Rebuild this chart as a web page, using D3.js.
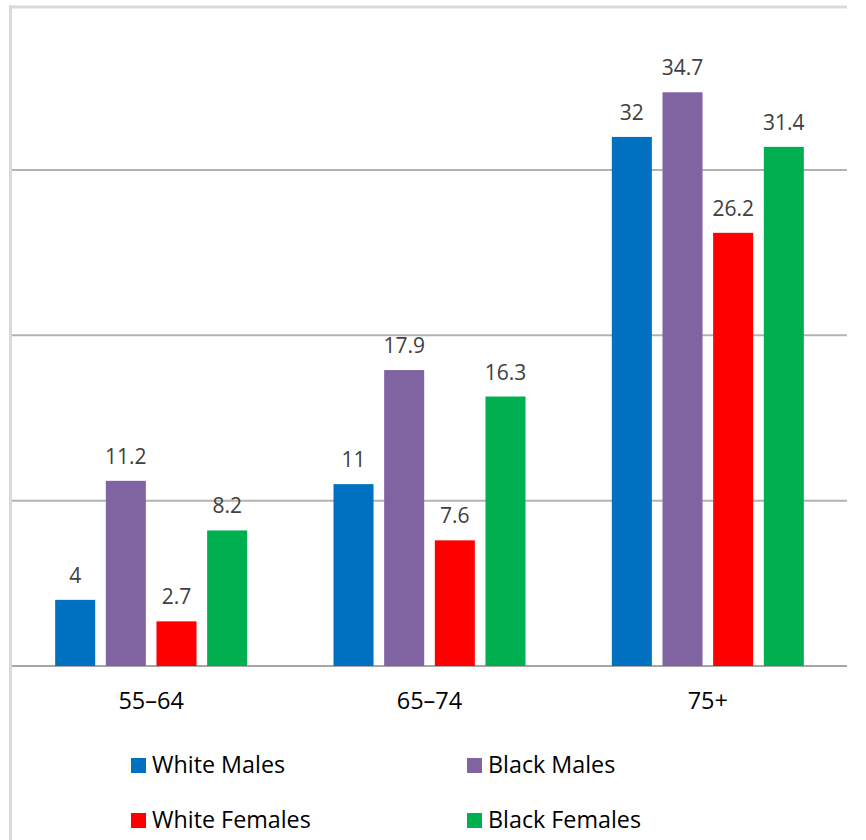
<!DOCTYPE html>
<html>
<head>
<meta charset="utf-8">
<script src="https://cdn.jsdelivr.net/npm/d3@7"></script>
<style>
  body { margin: 0; background: #fff; }
  svg { font-family: "Open Sans", "Noto Sans", sans-serif; }
</style>
</head>
<body>
<svg id="chart" width="866" height="840"></svg>
<script>
const ageGroups = ["55–64", "65–74", "75+"];
const seriesNames = ["White Males", "Black Males", "White Females", "Black Females"];
const whiteMales = [4, 11, 32];
const blackMales = [11.2, 17.9, 34.7];
const whiteFemales = [2.7, 7.6, 26.2];
const blackFemales = [8.2, 16.3, 31.4];
const gridTicks = [0, 10, 20, 30];
const colors = ["#0070c0", "#8064a2", "#ff0000", "#00b050"];

const seriesValues = [whiteMales, blackMales, whiteFemales, blackFemales];

const svg = d3.select("#chart");
const plotLeft = 12, plotRight = 847, plotBottom = 666;

// cadre
svg.append("line").attr("x1", 10.5).attr("x2", 10.5).attr("y1", 5.5).attr("y2", 840)
    .attr("stroke", "#d9d9d9").attr("stroke-width", 3);
svg.append("line").attr("x1", 9).attr("x2", 847).attr("y1", 7).attr("y2", 7)
    .attr("stroke", "#d9d9d9").attr("stroke-width", 3);

const x0 = d3.scaleBand().domain(ageGroups).range([plotLeft, plotRight]);
const x1 = d3.scaleBand().domain(seriesNames).range([0, 192]).paddingInner(0.21);
const y = d3.scaleLinear().domain([0, 30]).range([plotBottom, 170]);

// grille
svg.append("g").selectAll("line").data(gridTicks).enter().append("line")
    .attr("x1", plotLeft).attr("x2", plotRight)
    .attr("y1", d => y(d)).attr("y2", d => y(d))
    .attr("stroke", d => d === 0 ? "#a6a6a6" : "#b3b3b3")
    .attr("stroke-width", 2);

const groups = svg.append("g").selectAll("g").data(ageGroups).enter().append("g")
    .attr("transform", d => `translate(${x0(d) + x0.bandwidth() / 2 - 96},0)`);

const rows = (d, i) => seriesNames.map((s, j) => ({ s, j, v: seriesValues[j][i] }));

groups.selectAll("rect").data(rows).enter().append("rect")
    .attr("x", d => x1(d.s))
    .attr("width", x1.bandwidth())
    .attr("y", d => y(d.v))
    .attr("height", d => plotBottom - y(d.v))
    .attr("fill", d => colors[d.j]);

groups.selectAll("text").data(rows).enter().append("text")
    .attr("x", d => x1(d.s) + x1.bandwidth() / 2)
    .attr("y", d => y(d.v) - 17)
    .attr("text-anchor", "middle")
    .style("font-size", "21px")
    .style("fill", "#404040")
    .text(d => d.v);

// étiquettes des catégories
svg.append("g").selectAll("text").data(ageGroups).enter().append("text")
    .attr("x", d => x0(d) + x0.bandwidth() / 2)
    .attr("y", 709)
    .attr("text-anchor", "middle")
    .style("font-size", "23.5px")
    .style("fill", "#000")
    .text(d => d);

// légende
const legendPos = [[131, 765.5], [467, 765.5], [131, 820.5], [467, 820.5]];
const legend = svg.append("g").selectAll("g").data(seriesNames).enter().append("g")
    .attr("transform", (d, i) => `translate(${legendPos[i][0]},${legendPos[i][1]})`);
legend.append("rect").attr("x", 0).attr("y", -7.5).attr("width", 15).attr("height", 15)
    .attr("fill", (d, i) => colors[i]);
legend.append("text").attr("x", 21).attr("y", 7.5)
    .style("font-size", "23.3px").style("fill", "#000").text(d => d);
</script>
</body>
</html>
